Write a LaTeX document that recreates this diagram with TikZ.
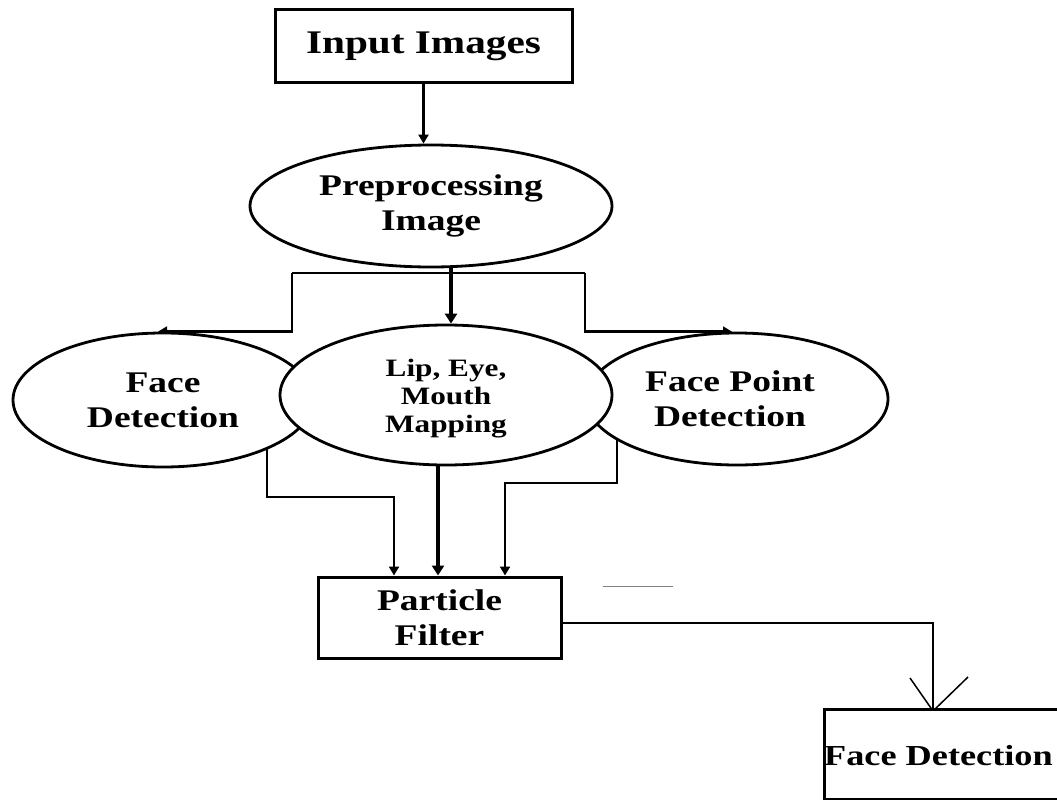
\documentclass[tikz,border=0pt]{standalone}
\usepackage{fontspec}
\setmainfont{Liberation Serif}[FakeStretch=1.25]
\usetikzlibrary{shapes.geometric,arrows.meta}
\pgfdeclarelayer{bg}
\pgfsetlayers{bg,main}
\begin{document}
\begin{tikzpicture}[x=1pt,y=-1pt,
  box/.style={draw, line width=3pt, fill=white, inner sep=0pt, align=center},
  ell/.style={draw, ellipse, line width=2.8pt, fill=white, inner sep=0pt, align=center},
  bigtxt/.style={font=\bfseries\fontsize{30}{35}\selectfont},
  smalltxt/.style={font=\bfseries\fontsize{25}{28}\selectfont},
  conn/.style={line width=2.6pt, -{Triangle[length=9pt,width=10pt]}},
  thickconn/.style={line width=3.8pt, -{Triangle[length=10pt,width=12pt]}},
  thinline/.style={line width=1.5pt}
]
\useasboundingbox (0,0) rectangle (1057,800);

% nodes
\node[box, minimum width=297pt, minimum height=72pt,
      font=\bfseries\fontsize{33}{38}\selectfont] (inp) at (423.5,46) {\raisebox{6pt}{Input Images}};
\node[ell, bigtxt, minimum width=362pt, minimum height=122pt] (pre) at (431,206) {Preprocessing\\Image};
\node[ell, bigtxt, minimum width=300pt, minimum height=134pt] (fd) at (163,400) {Face\\Detection};
\node[ell, minimum width=302pt, minimum height=132pt,
      label={[bigtxt, align=center, xshift=-7pt]center:Face Point\\Detection}] (fpd) at (737,399) {};
\node[ell, minimum width=332pt, minimum height=140pt,
      label={[smalltxt, align=center, yshift=-4pt]center:Lip, Eye,\\Mouth\\Mapping}] (lem) at (446,395) {};
\node[box, bigtxt, minimum width=243pt, minimum height=81pt] (pf) at (439.5,617.5) {Particle\\Filter};
\node[box, minimum width=250pt, minimum height=90pt, anchor=north west] (out) at (823,708) {};
\node[anchor=west, inner sep=1pt, font=\bfseries\fontsize{29}{33}\selectfont] (outt) at ([yshift=-1pt]out.west) {Face Detection};

% helper coordinates
\coordinate (bl) at (292,273);
\coordinate (brr) at (585,273);
\coordinate (cs) at (451,240);
\coordinate (l1) at (267,430);
\coordinate (l2) at (394,497);
\coordinate (m1) at (438,440);
\coordinate (r1) at (617,430);
\coordinate (r2) at (505,483);
\coordinate (o1) at (561,623);
\coordinate (o2) at (933,623);
\coordinate (tip) at (933,711);
\coordinate (va) at (910,678);
\coordinate (vb) at (968,677);
\coordinate (s1) at (603,586);
\coordinate (s2) at (673,586);

\begin{pgfonlayer}{bg}
  \draw[conn] (inp.south) -- (inp.south |- pre.north);
  \draw[thickconn] (cs) -- (cs |- lem.north);
  \draw[line width=2.6pt] (bl) -- (brr);
  \draw[conn] (bl) -- (bl |- fd.north) -- ([xshift=-5pt]fd.north);
  \draw[conn] (brr) -- (brr |- fpd.north) -- ([xshift=-5pt]fpd.north);
  \draw[conn] (l1) |- (l2) -- (l2 |- pf.north);
  \draw[thickconn] (m1) -- (m1 |- pf.north);
  \draw[conn] (r1) |- (r2) -- (r2 |- pf.north);
  \draw[thinline] (o1) -- (o2) -- (tip);
  \draw[thinline] (va) -- (tip) -- (vb);
  \draw[line width=1pt, gray] (s1) -- (s2);
\end{pgfonlayer}
\end{tikzpicture}
\end{document}
